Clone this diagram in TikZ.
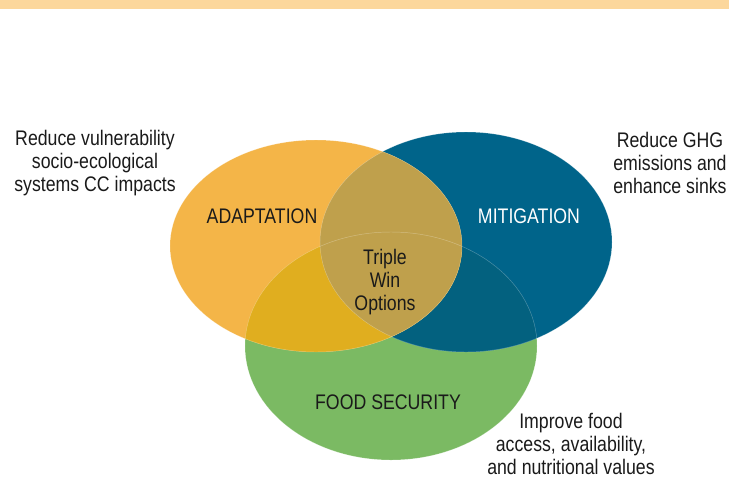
\documentclass[tikz,border=0pt]{standalone}
\usepackage{fontspec}
\setmainfont{Liberation Sans}[FakeStretch=0.84]
\usepackage{tikz}
\usetikzlibrary{positioning}
\definecolor{topbar}{HTML}{FCD79C}
\definecolor{adapt}{HTML}{F4B548}
\definecolor{mitig}{HTML}{00648A}
\definecolor{food}{HTML}{7BBA63}
\definecolor{adaptmitig}{HTML}{BFA04C}
\definecolor{adaptfood}{HTML}{E0AE1F}
\definecolor{mitigfood}{HTML}{03617F}
\definecolor{ink}{HTML}{1A1A1A}
\tikzset{
  label/.style={font=\fontsize{18}{19.8}\selectfont, text=ink, align=center, inner sep=0pt},
  note/.style={label},
  rim/.style={white, opacity=0.3, line width=0.4pt}
}
\newcommand{\adaptpath}{(316,246) ellipse (146 and 106)}
\newcommand{\mitigpath}{(466,242) ellipse (146 and 110)}
\newcommand{\foodpath}{(391,346) ellipse (146 and 114)}

\begin{document}
\begin{tikzpicture}[x=0.03cm,y=-0.03cm]
\useasboundingbox (0,0) rectangle (729,478);
% top band
\fill[topbar] (0,0) rectangle (729,9);
% circles
\fill[food] \foodpath;
\fill[mitig] \mitigpath;
\begin{scope}
  \clip \foodpath;
  \fill[mitigfood] \mitigpath;
\end{scope}
\fill[adapt] \adaptpath;
\begin{scope}
  \clip \adaptpath;
  \fill[adaptfood] \foodpath;
  \fill[adaptmitig] \mitigpath; % also the triple overlap
\end{scope}
% faint rims
\draw[rim] \foodpath;
\draw[rim] \mitigpath;
\draw[rim] \adaptpath;
% circle labels
\node[label] (adaptation) at (262,216) {ADAPTATION};
\node[label, text=white] (mitigation) at (529,216) {MITIGATION};
\node[label] (foodsec) at (388,402) {FOOD SECURITY};
\node[label] (triple) at (385,282) {Triple\\Win\\Options};
% side notes
\node[note] (adaptnote) at (95,163) {Reduce vulnerability\\socio-ecological\\systems CC impacts};
\node[note] (mitignote) at (670,163) {Reduce GHG\\emissions and\\enhance sinks};
\node[note] (foodnote) at (571,444) {Improve food\\access, availability,\\and nutritional values};
\end{tikzpicture}
\end{document}
